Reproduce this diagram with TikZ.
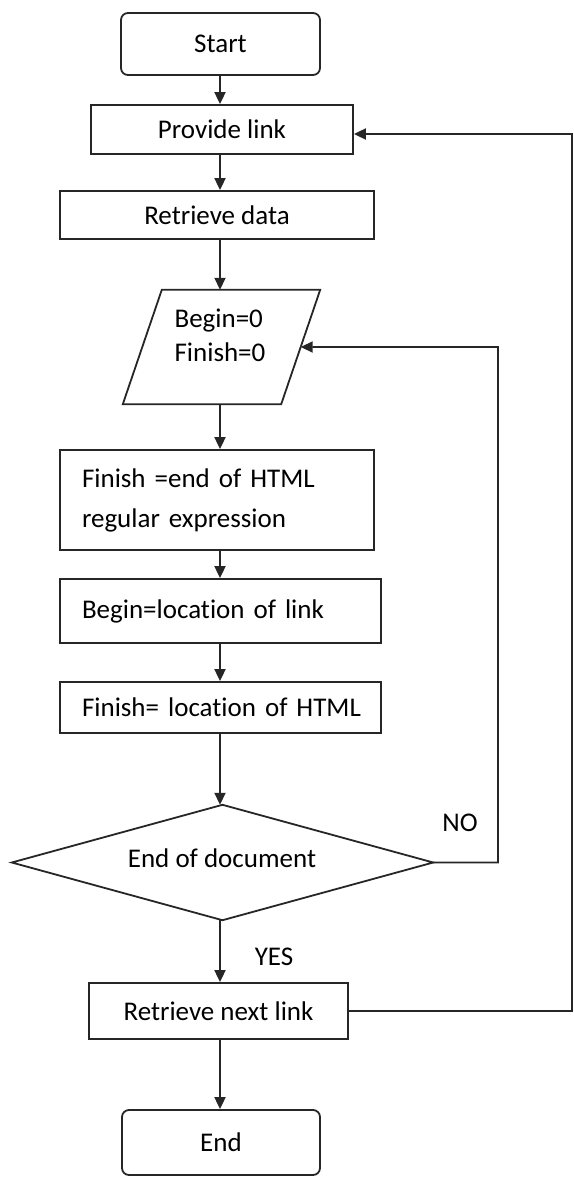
\documentclass[tikz,border=0pt]{standalone}
\usepackage{fontspec}
\setmainfont[Ligatures=NoCommon]{Carlito}
\usetikzlibrary{arrows.meta,shapes.geometric,calc}
\begin{document}
\begin{tikzpicture}[x=1pt,y=-1pt,
  every node/.style={font=\fontsize{27}{34}\selectfont, text=black},
  outline/.style={draw=black!85, line width=1.8pt},
  procbox/.style={outline, rectangle, inner sep=0pt, align=center},
  leftbox/.style={outline, rectangle, inner xsep=22pt, inner ysep=0pt, align=left},
  termbox/.style={outline, rectangle, rounded corners=7pt, inner sep=0pt},
  frame/.style={rectangle, inner sep=0pt},
  arr/.style={draw=black!85, line width=1.8pt, -{Triangle[length=12pt,width=11pt]}},
  tag/.style={inner sep=0pt}
]
\useasboundingbox (0,0) rectangle (573,1177);

% vertical spine of the main flow and the two loop-back columns
\coordinate (spine) at (220,0);
\coordinate (loopR) at (572,134);
\coordinate (noX) at (498,347);

% main column
\node[termbox, minimum width=199pt, minimum height=62pt] (start) at (220.5,44) {Start};
\node[procbox, minimum width=262pt, minimum height=49pt] (provide) at (222,129.5) {Provide link};
\node[procbox, minimum width=314pt, minimum height=48pt] (retrieve) at (217,215) {Retrieve data};

% input step: a parallelogram drawn round a frame node
\node[frame, minimum width=197pt, minimum height=114pt] (init) at (221.5,347) {};
\draw[outline, line join=miter]
  (init.south west) -- ($(init.south east)+(-39,0)$) -- (init.north east)
  -- ($(init.north west)+(39,0)$) -- cycle;
\coordinate (initR) at ($($(init.south east)+(-39,0)$)!0.5!(init.north east)$);
\node[align=left, inner sep=0pt] (initText) at (220,335) {Begin=0\\Finish=0};

\node[leftbox, text width=270pt, minimum height=100pt,
      font=\fontsize{27}{40}\selectfont] (finEnd) at (217,500)
  {\mbox{Finish =end of HTML}\\\mbox{regular expression}};
\node[leftbox, text width=277pt, minimum height=64pt] (beginLoc) at (220.5,611)
  {\mbox{Begin=location of link}};
\node[leftbox, text width=277pt, minimum height=51pt] (finLoc) at (220.5,707.5)
  {\mbox{Finish= location of HTML}};

% decision: a diamond drawn through the mid-points of a frame node
\node[frame, minimum width=421pt, minimum height=115pt] (decision) at (222.5,862.5) {};
\draw[outline, line join=miter]
  (decision.north) -- (decision.east) -- (decision.south) -- (decision.west) -- cycle;
\node[inner sep=0pt] (decisionText) at (222,858) {End of document};

\node[procbox, minimum width=259pt, minimum height=56pt] (nextLink) at (218.5,1011)
  {Retrieve next link};
\node[termbox, minimum width=198pt, minimum height=65pt] (finish) at (221,1142.5) {End};

% branch labels
\node[tag] (noTag) at (460,823) {NO};
\node[tag] (yesTag) at (274,957) {YES};

% straight-down connectors
\draw[arr] (start.south -| spine) -- (provide.north -| spine);
\draw[arr] (provide.south -| spine) -- (retrieve.north -| spine);
\draw[arr] (retrieve.south -| spine) -- (init.north -| spine);
\draw[arr] (init.south -| spine) -- (finEnd.north -| spine);
\draw[arr] (finEnd.south -| spine) -- (beginLoc.north -| spine);
\draw[arr] (beginLoc.south -| spine) -- (finLoc.north -| spine);
\draw[arr] (finLoc.south -| spine) -- (decision.north -| spine);
\draw[arr] (decision.south -| spine) -- (nextLink.north -| spine);
\draw[arr] (nextLink.south -| spine) -- (finish.north -| spine);

% loop back when the document is not finished
\draw[arr] (decision.east) -| (noX) -- (initR);

% loop back to provide the next link
\draw[arr] (nextLink.east) -| (loopR) -- (loopR -| provide.east);
\end{tikzpicture}
\end{document}
